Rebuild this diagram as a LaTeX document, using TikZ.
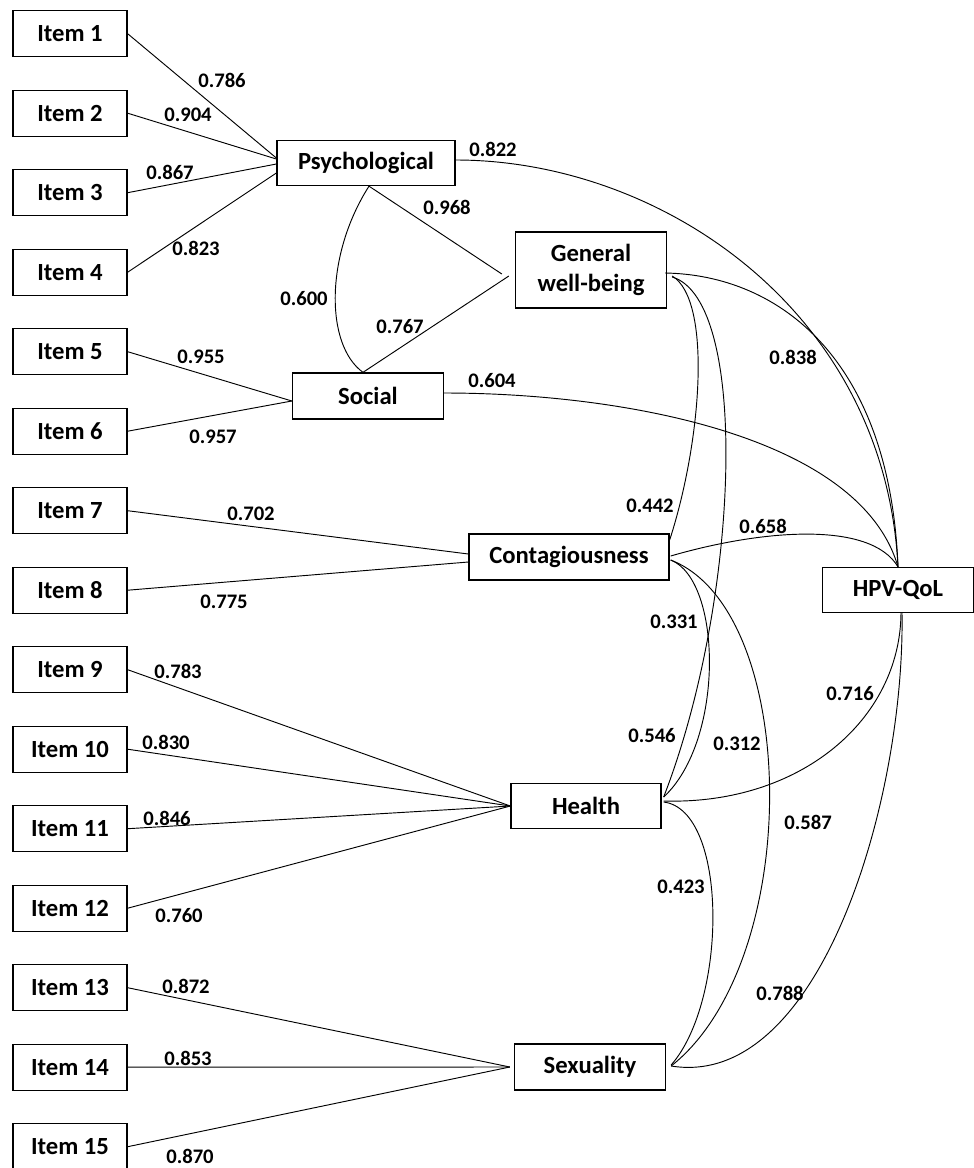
\documentclass[tikz,border=0pt]{standalone}
\usepackage{fontspec}
\setmainfont{Carlito}
\usetikzlibrary{calc}
\begin{document}
\begin{tikzpicture}[x=0.75pt,y=-0.75pt,
  box/.style={draw,line width=1pt,inner sep=0pt,align=center,font=\fontsize{18.5}{22.5}\selectfont\bfseries},
  itembox/.style={box,minimum width={114*0.75pt},minimum height={46*0.75pt}},
  lbl/.style={font=\fontsize{15.5}{18}\selectfont\bfseries,inner sep=0pt},
  conn/.style={line width=0.7pt}]
\useasboundingbox (0,0) rectangle (974,1168);
% item boxes
\foreach \i in {1,...,15} {
  \node[itembox] (it\i) at (70,{33.7+(\i-1)*79.5}) {Item \i};
}
% latent boxes
\node[box,minimum width={178*0.75pt},minimum height={45*0.75pt}] (psy) at (366,163) {Psychological};
\node[box,minimum width={151*0.75pt},minimum height={76*0.75pt}] (gwb) at (591,270) {General\\well-being};
\node[box,minimum width={151*0.75pt},minimum height={46*0.75pt}] (soc) at (368,396) {Social};
\node[box,minimum width={200*0.75pt},minimum height={46*0.75pt}] (cont) at (569,557) {Contagiousness};
\node[box,minimum width={151*0.75pt},minimum height={45*0.75pt}] (hpv) at (898,590) {HPV-QoL};
\node[box,minimum width={150*0.75pt},minimum height={45*0.75pt}] (hea) at (586,806) {Health};
\node[box,minimum width={151*0.75pt},minimum height={46*0.75pt}] (sex) at (590,1067) {Sexuality};

% item loadings
\draw[conn] (it1.east) -- ($(psy.west)+(0,-5)$);
\draw[conn] (it2.east) -- ($(psy.west)+(0,-4)$);
\draw[conn] (it3.east) -- ($(psy.west)+(0,1)$);
\draw[conn] (it4.east) -- ($(psy.west)+(0,10)$);
\draw[conn] (it5.east) -- ($(soc.west)+(0,5)$);
\draw[conn] (it6.east) -- ($(soc.west)+(0,5)$);
\draw[conn] (it7.east) -- ($(cont.west)+(0,-3)$);
\draw[conn] (it8.east) -- ($(cont.west)+(0,5)$);
\foreach \i in {9,...,12} { \draw[conn] (it\i.east) -- (hea.west); }
\foreach \i in {13,14,15} { \draw[conn] (it\i.east) -- ($(sex.west)+(-4,0)$); }

% Psychological / Social / General well-being
\draw[conn] ($(psy.south)+(3,0)$) .. controls (325,255) and (325,345) .. ($(soc.north)+(-5,0)$);
\draw[conn] ($(psy.south)+(3,0)$) -- ($(gwb.west)+(-13,4)$);
\draw[conn] ($(soc.north)+(-5,0)$) -- ($(gwb.west)+(-6,6)$);

% paths to HPV-QoL
\draw[conn] ($(psy.east)+(0,-3)$) .. controls (660,160) and (885,310) .. (hpv.north);
\draw[conn] ($(gwb.east)+(-2,3)$) .. controls (780,275) and (890,360) .. (hpv.north);
\draw[conn] ($(soc.east)+(0,-3)$) .. controls (620,393) and (860,435) .. (hpv.north);
\draw[conn] ($(cont.east)+(1,-1)$) .. controls (760,530) and (870,520) .. (hpv.north);
\draw[conn] ($(hea.east)+(2,-5)$) .. controls (800,805) and (900,720) .. ($(hpv.south)+(3,0)$);
\draw[conn] ($(sex.east)+(5,-1)$) .. controls (820,1090) and (905,800) .. ($(hpv.south)+(4,0)$);

% correlations
\draw[conn] ($(gwb.east)+(5,6)$) .. controls (712,300) and (702,440) .. ($(cont.east)+(0,-17)$);
\draw[conn] ($(gwb.east)+(5,7)$) .. controls (750,300) and (740,600) .. ($(hea.east)+(2,-9)$);
\draw[conn] ($(cont.east)+(1,3)$) .. controls (722,580) and (725,740) .. ($(hea.east)+(2,-9)$);
\draw[conn] ($(cont.east)+(1,3)$) .. controls (800,610) and (805,960) .. ($(sex.east)+(5,-1)$);
\draw[conn] ($(hea.east)+(2,-4)$) .. controls (728,810) and (728,1000) .. ($(sex.east)+(5,-2)$);

% labels
\node[lbl] (l1) at (222,80) {0.786};
\node[lbl] (l2) at (188,115) {0.904};
\node[lbl] (l3) at (170,172) {0.867};
\node[lbl] (l4) at (196,248) {0.823};
\node[lbl] (l5) at (493,149) {0.822};
\node[lbl] (l6) at (447,207) {0.968};
\node[lbl] (l7) at (304,299) {0.600};
\node[lbl] (l8) at (400,327) {0.767};
\node[lbl] (l9) at (492,381) {0.604};
\node[lbl] (l10) at (201,357) {0.955};
\node[lbl] (l11) at (213,437) {0.957};
\node[lbl] (l12) at (251,514) {0.702};
\node[lbl] (l13) at (224,602) {0.775};
\node[lbl] (l14) at (178,671) {0.783};
\node[lbl] (l15) at (166,742) {0.830};
\node[lbl] (l16) at (167,818) {0.846};
\node[lbl] (l17) at (179,916) {0.760};
\node[lbl] (l18) at (186,986) {0.872};
\node[lbl] (l19) at (188,1058) {0.853};
\node[lbl] (l20) at (190,1156) {0.870};
\node[lbl] (l21) at (793,357) {0.838};
\node[lbl] (l22) at (650,506) {0.442};
\node[lbl] (l23) at (763,526) {0.658};
\node[lbl] (l24) at (674,622) {0.331};
\node[lbl] (l25) at (850,694) {0.716};
\node[lbl] (l26) at (652,736) {0.546};
\node[lbl] (l27) at (737,744) {0.312};
\node[lbl] (l28) at (808,822) {0.587};
\node[lbl] (l29) at (681,887) {0.423};
\node[lbl] (l30) at (780,993) {0.788};
\end{tikzpicture}
\end{document}
